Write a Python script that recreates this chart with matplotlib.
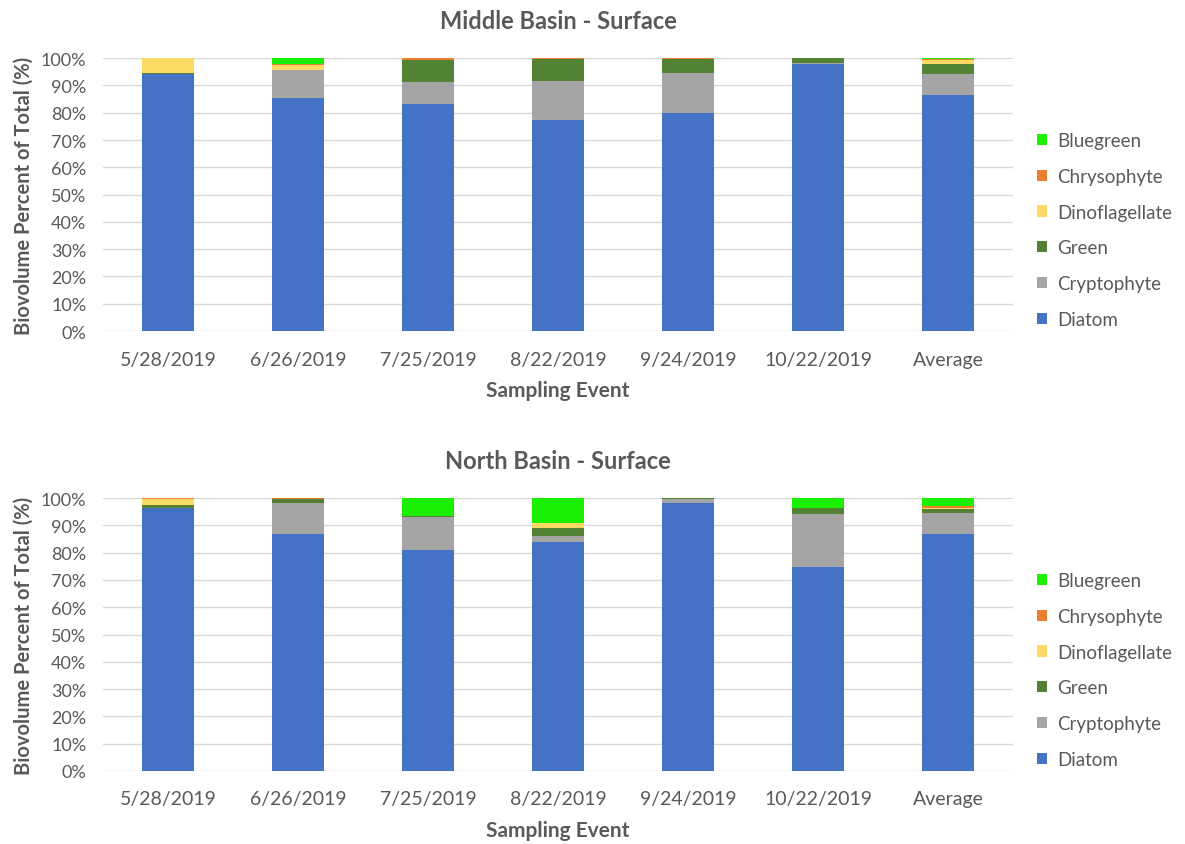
import matplotlib
matplotlib.use("Agg")
import matplotlib.pyplot as plt
import numpy as np

plt.rcParams["font.family"] = ["Lato", "DejaVu Sans"]

events = ["5/28/2019", "6/26/2019", "7/25/2019", "8/22/2019",
          "9/24/2019", "10/22/2019", "Average"]
groups = ["Diatom", "Cryptophyte", "Green", "Dinoflagellate",
          "Chrysophyte", "Bluegreen"]
colors = ["#4472C4", "#A5A5A5", "#548235", "#FFD966", "#ED7D31", "#1AF000"]

# percent of total, per group, per sampling event
middle = {
    "Diatom":         [94.1, 85.3, 83.3, 77.5, 79.9, 98.0, 86.4],
    "Cryptophyte":    [0.0, 10.3, 8.0, 14.0, 14.7, 0.2, 7.9],
    "Green":          [0.6, 0.0, 8.0, 8.1, 5.1, 1.7, 3.7],
    "Dinoflagellate": [5.3, 1.9, 0.0, 0.0, 0.0, 0.0, 1.2],
    "Chrysophyte":    [0.0, 0.5, 0.7, 0.4, 0.3, 0.0, 0.4],
    "Bluegreen":      [0.0, 2.0, 0.0, 0.0, 0.0, 0.1, 0.4],
}
north = {
    "Diatom":         [96.3, 86.9, 80.9, 84.0, 98.3, 74.8, 86.9],
    "Cryptophyte":    [0.0, 11.2, 12.3, 2.2, 1.5, 19.4, 7.6],
    "Green":          [1.2, 1.7, 0.3, 3.0, 0.2, 2.0, 1.4],
    "Dinoflagellate": [2.0, 0.0, 0.0, 1.5, 0.0, 0.0, 0.6],
    "Chrysophyte":    [0.5, 0.2, 0.0, 0.3, 0.0, 0.0, 0.5],
    "Bluegreen":      [0.0, 0.0, 6.5, 9.0, 0.0, 3.8, 3.0],
}

txt = "#595959"
fig = plt.figure(figsize=(11.85, 8.45), dpi=100)


def draw(ax, data, title):
    x = np.arange(len(events))
    bottom = np.zeros(len(events))
    handles = []
    for g, c in zip(groups, colors):
        vals = np.array(data[g]) / 100.0
        h = ax.bar(x, vals, 0.4, bottom=bottom, color=c, label=g, zorder=3)
        handles.append(h)
        bottom += vals
    ax.set_xlim(-0.5, len(events) - 0.5)
    ax.set_ylim(0, 1)
    ax.set_yticks(np.arange(0, 1.01, 0.1))
    ax.set_yticklabels(["%d%%" % round(v * 100) for v in np.arange(0, 1.01, 0.1)])
    ax.set_xticks(x)
    ax.set_xticklabels(events)
    ax.tick_params(axis="x", length=0, labelsize=14, colors=txt, pad=14)
    ax.tick_params(axis="y", length=0, labelsize=13, colors=txt, pad=12)
    ax.grid(axis="y", color="#d9d9d9", lw=1, zorder=0)
    for s in ax.spines.values():
        s.set_visible(False)
    ax.set_title(title, fontsize=17, fontweight="bold", color=txt, pad=22)
    ax.set_xlabel("Sampling Event", fontsize=15, fontweight="bold", color=txt, labelpad=9)
    ax.set_ylabel("Biovolume Percent of Total (%)", fontsize=14.5, fontweight="bold",
                  color=txt, labelpad=5)
    leg = ax.legend(handles[::-1], groups[::-1], loc="center left",
                    bbox_to_anchor=(1.01, 0.37), frameon=False, fontsize=13.5,
                    handlelength=0.55, handleheight=0.55, handletextpad=0.5,
                    labelspacing=1.0, borderpad=0.3)
    for t in leg.get_texts():
        t.set_color(txt)


ax1 = fig.add_axes([0.0869, 0.607, 0.768, 0.323])
draw(ax1, middle, "Middle Basin - Surface")
ax2 = fig.add_axes([0.0869, 0.0864, 0.768, 0.323])
draw(ax2, north, "North Basin - Surface")

fig.savefig("out.png", dpi=100)
